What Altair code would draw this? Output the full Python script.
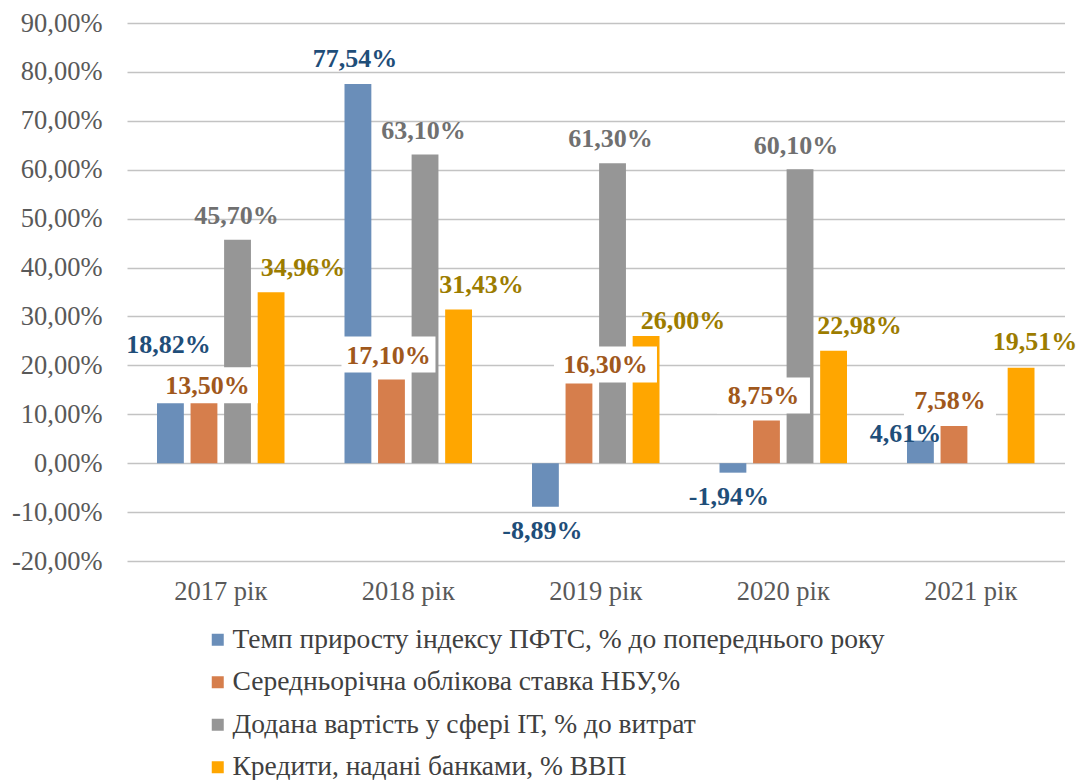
import altair as alt
import pandas as pd

# ---------------- data ----------------
years = ["2017 рік", "2018 рік", "2019 рік", "2020 рік", "2021 рік"]
series = [
    "Темп приросту індексу ПФТС, % до попереднього року",
    "Середньорічна облікова ставка НБУ,%",
    "Додана вартість у сфері ІТ, % до витрат",
    "Кредити, надані банками, % ВВП",
]
pfts_growth = [18.82, 77.54, -8.89, -1.94, 4.61]
nbu_rate = [13.50, 17.10, 16.30, 8.75, 7.58]
it_value_added = [45.70, 63.10, 61.30, 60.10, None]
bank_credits = [34.96, 31.43, 26.00, 22.98, 19.51]
y_ticks = [-20, -10, 0, 10, 20, 30, 40, 50, 60, 70, 80, 90]

# ---------------- styles ----------------
bar_colors = ["#6A8EB9", "#D67E4C", "#969696", "#FFA600"]
label_colors = ["#1F4E79", "#A0581C", "#707070", "#9C7C00"]
# label offsets in pixels from the bar end (series x year)
label_dx = [[-2, -3, -3, -4, -15],
            [3.5, -3, 26.5, -3, -4],
            [-1, -1.5, -2, -4, 0],
            [32, 23, 37, 26, 14]]
label_dy = [[-26, -25, 24, 24, -7],
            [-11, -24, -18, -24, -25],
            [-24, -24, -24, -23, 0],
            [-24, -24, -15.5, -25, -26]]
# white fill behind the labels of the 2nd series (width, height in px)
box_w = [101, 94, 103, 93, 92]
box_h = 36

FONT = "Liberation Serif"

all_values = [pfts_growth, nbu_rate, it_value_added, bank_credits]
rows = []
for s, vals in zip(series, all_values):
    for y, v in zip(years, vals):
        rows.append({"year": y, "series": s, "value": v})
df = pd.DataFrame(rows)

X = alt.X("year:N",
          scale=alt.Scale(domain=years, paddingInner=0.32, paddingOuter=0.16),
          axis=alt.Axis(title=None, labelAngle=0, domain=False, ticks=False, grid=False,
                        labelPadding=17, labelFont=FONT, labelFontSize=26.5,
                        labelColor="#595959"))
XO = alt.XOffset("series:N",
                 scale=alt.Scale(domain=series, paddingInner=0.2, paddingOuter=0))
Y = alt.Y("value:Q",
          scale=alt.Scale(domain=[-20, 90], nice=False, zero=False),
          axis=alt.Axis(title=None, values=y_ticks, domain=False, ticks=False, tickSize=0,
                        grid=True, gridColor="#C3C3C3", gridWidth=1.6,
                        labelPadding=25, labelFont=FONT, labelFontSize=26.5,
                        labelColor="#595959",
                        labelExpr="replace(replace(format(datum.value, '.2f'), '.', ','), '\u2212', '-') + '%'"))

bars = alt.Chart(df).mark_bar().encode(
    x=X, xOffset=XO, y=Y,
    color=alt.Color("series:N",
                    scale=alt.Scale(domain=series, range=bar_colors),
                    legend=alt.Legend(title=None, orient="none", legendX=77, legendY=603,
                                      direction="vertical", symbolType="square",
                                      symbolSize=144, symbolStrokeWidth=0,
                                      labelFont=FONT, labelFontSize=27.5,
                                      labelColor="#404040", labelLimit=1200,
                                      labelOffset=1, rowPadding=13.5, padding=0)),
)

layers = [bars]
box_layers = []
text_layers = []
for si, (s, vals) in enumerate(zip(series, all_values)):
    for yi, (y, v) in enumerate(zip(years, vals)):
        if v is None:
            continue
        label = f"{v:.2f}".replace(".", ",") + "%"
        one = pd.DataFrame([{"year": y, "series": s, "value": v, "label": label}])
        dx = label_dx[si][yi]
        dy = label_dy[si][yi]
        if si == 1:
            k = 50.0
            w = box_w[yi]
            x0 = (dx - w / 2) / k
            x1 = (dx + w / 2) / k
            y0 = (dy - 1 - box_h / 2) / k
            y1 = (dy - 1 + box_h / 2) / k
            path = f"M{x0:.4f},{y0:.4f}H{x1:.4f}V{y1:.4f}H{x0:.4f}Z"
            box_layers.append(
                alt.Chart(one).mark_point(shape=path, size=(2 * k) ** 2, filled=True,
                                          color="white", opacity=1, strokeWidth=0)
                .encode(x=X, xOffset=XO, y=Y)
            )
        text_layers.append(
            alt.Chart(one).mark_text(dx=dx, dy=dy, font=FONT, fontSize=26,
                                     fontWeight="bold", color=label_colors[si],
                                     align="center", baseline="middle")
            .encode(x=X, xOffset=XO, y=Y, text="label:N")
        )

chart = alt.layer(*(layers + box_layers + text_layers)).properties(
    width=937.5, height=538,
    autosize=alt.AutoSizeParams(type="none"),
    padding={"left": 119, "top": 15, "right": 12, "bottom": 225},
).configure(background="white", font=FONT).configure_view(
    strokeWidth=0
).configure_legend(labelFont=FONT, labelFontSize=27.5)

chart.save("out.html", embed_options={"renderer": "svg", "actions": False})
